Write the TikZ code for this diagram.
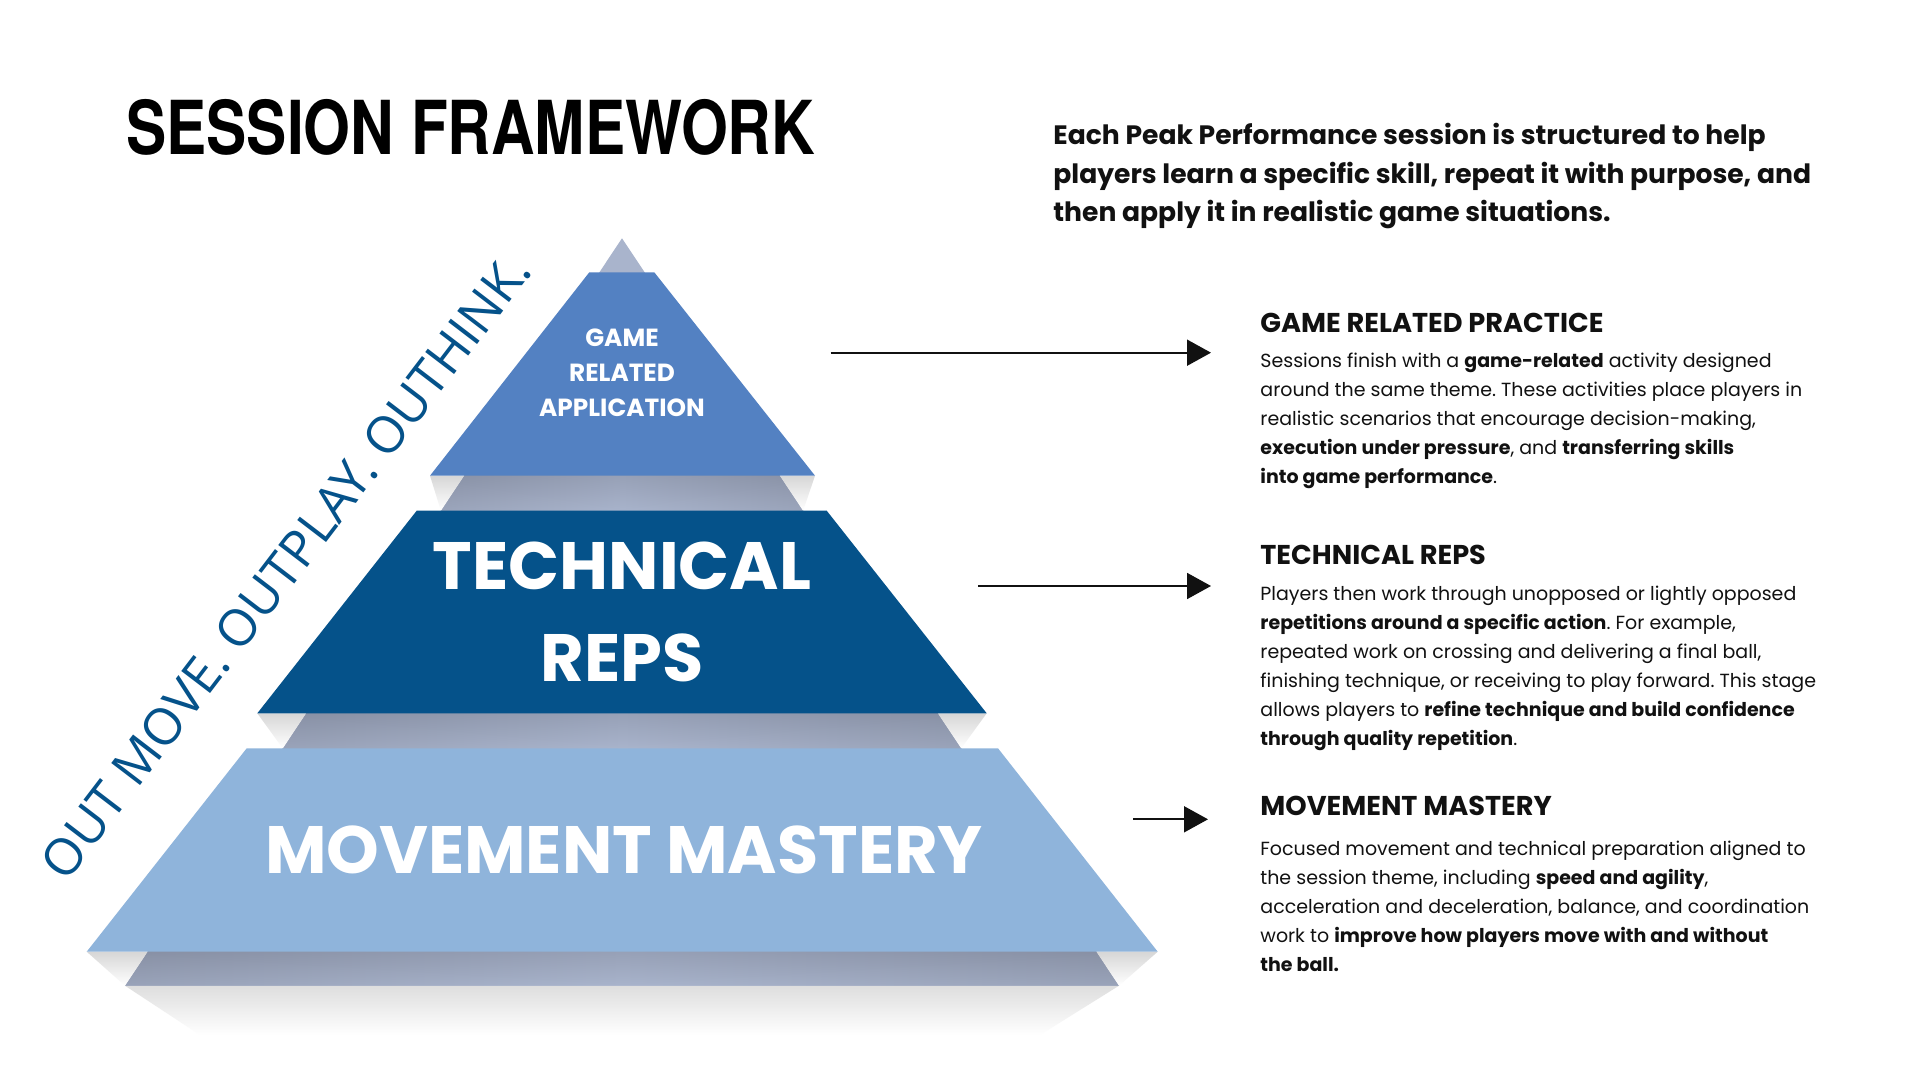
\documentclass[tikz,border=0pt]{standalone}
\usepackage{fontspec}
\setmainfont{Poppins}
\newfontfamily\titlefont[FakeStretch=0.81]{TeX Gyre Heros}
\newfontfamily\slogfont{Open Sans}
\usetikzlibrary{arrows.meta}
\definecolor{tiertop}{HTML}{5381C2}
\definecolor{tiermid}{HTML}{05528A}
\definecolor{tierlow}{HTML}{8FB4DB}
\definecolor{pyrgrey}{HTML}{A9B4CC}
\definecolor{pyrdark}{HTML}{878FA3}
\definecolor{ink}{HTML}{111111}
\frenchspacing
\tikzset{
  body/.style={anchor=base west, inner sep=0pt, text=ink, font=\fontsize{9.5pt}{12pt}\selectfont},
  head/.style={anchor=base west, inner sep=0pt, text=ink, font=\fontsize{13.6pt}{16pt}\selectfont\bfseries},
  intro/.style={anchor=base west, inner sep=0pt, text=ink, font=\fontsize{13.3pt}{16pt}\selectfont\bfseries},
  tiertext/.style={anchor=base, inner sep=0pt, text=white},
  arr/.style={-{Triangle[length=12pt,width=13pt]}, line width=0.9pt, draw=ink},
  cornershade/.style={top color=black!16, bottom color=white}
}
\begin{document}
\begin{tikzpicture}[x=0.5pt,y=-0.5pt]
\useasboundingbox (0,0) rectangle (1920,1080);
\fill[white] (0,0) rectangle (1920,1080);

% soft shadow under the pyramid
\shade[top color=black!13, bottom color=white] (125,985.7) -- (1119,985.7) -- (1040,1035) -- (200,1035) -- cycle;

% grey pyramid behind the tiers
\fill[pyrgrey] (622,238.3) -- (1119,985.7) -- (125,985.7) -- cycle;
\begin{scope}
  \clip (622,238.3) -- (1119,985.7) -- (125,985.7) -- cycle;
  \shade[left color=pyrdark, right color=pyrdark, middle color=pyrgrey] (400,475.7) rectangle (845,510.7);
  \shade[left color=pyrdark, right color=pyrdark, middle color=pyrgrey] (250,713.3) rectangle (995,748.3);
  \shade[left color=pyrdark, right color=pyrdark, middle color=pyrgrey] (80,951.7) rectangle (1165,985.7);
  \shade[top color=pyrdark, bottom color=pyrgrey, opacity=0.5] (400,475.7) rectangle (845,510.7);
  \shade[top color=pyrdark, bottom color=pyrgrey, opacity=0.5] (250,713.3) rectangle (995,748.3);
  \shade[top color=pyrdark, bottom color=pyrgrey, opacity=0.5] (80,951.7) rectangle (1165,985.7);
\end{scope}

% corner shadows beside the grey gaps
\shade[cornershade] (430,475.7) -- (464.1,475.7) -- (440.9,510.7) -- cycle;
\shade[cornershade] (779.9,475.7) -- (815,475.7) -- (803.1,510.7) -- cycle;
\shade[cornershade] (257.3,713.3) -- (306.1,713.3) -- (282.8,748.3) -- cycle;
\shade[cornershade] (937.9,713.3) -- (986.7,713.3) -- (961.2,748.3) -- cycle;
\shade[cornershade] (86.7,951.7) -- (147.6,951.7) -- (125,985.7) -- cycle;
\shade[cornershade] (1096.4,951.7) -- (1157.7,951.7) -- (1119,985.7) -- cycle;

% tiers
\fill[tiertop] (589.3,272.3) -- (654.3,272.3) -- (815,475.7) -- (430,475.7) -- cycle;
\fill[tiermid] (416.7,510.7) -- (826.7,510.7) -- (986.7,713.3) -- (257.3,713.3) -- cycle;
\fill[tierlow] (246.7,748.3) -- (998,748.3) -- (1157.7,951.7) -- (86.7,951.7) -- cycle;

% tier labels
\node[tiertext, font=\fontsize{12.4pt}{14pt}\selectfont\bfseries] (t1a) at (622,346.7) {GAME};
\node[tiertext, font=\fontsize{12.4pt}{14pt}\selectfont\bfseries] (t1b) at (622,381.7) {RELATED};
\node[tiertext, font=\fontsize{12.4pt}{14pt}\selectfont\bfseries] (t1c) at (622,416.7) {APPLICATION};
\node[tiertext, font=\fontsize{33.5pt}{40pt}\selectfont\bfseries] (t2a) at (622,589.3) {TECHNICAL};
\node[tiertext, font=\fontsize{33.5pt}{40pt}\selectfont\bfseries] (t2b) at (622,681.7) {REPS};
\node[tiertext, font=\fontsize{33.5pt}{40pt}\selectfont\bfseries] (t3) at (624,873.3) {MOVEMENT MASTERY};

% slogan
\node[rotate=52.6, anchor=base east, inner sep=0pt, text=tiermid, font=\slogfont\fontsize{25.4pt}{30pt}\selectfont] (slogan) at (534,271) {OUT MOVE. OUTPLAY. OUTHINK.};

% title
\node[anchor=base west, inner sep=0pt, text=black, font=\titlefont\bfseries\fontsize{37.2pt}{40pt}\selectfont] (title) at (126,155) {SESSION FRAMEWORK};

% intro
\node[intro] (i1) at (1053,144.6) {Each Peak Performance session is structured to help};
\node[intro] (i2) at (1053,183.2) {players learn a specific skill, repeat it with purpose, and};
\node[intro] (i3) at (1053,221.5) {then apply it in realistic game situations.};

% arrows
\coordinate (a1s) at (830.7,352.7);
\coordinate (a1e) at (1211,352.7);
\coordinate (a2s) at (978.3,586);
\coordinate (a2e) at (1211,586);
\coordinate (a3s) at (1133.3,819.3);
\coordinate (a3e) at (1208,819.3);
\draw[arr] (a1s) -- (a1e);
\draw[arr] (a2s) -- (a2e);
\draw[arr] (a3s) -- (a3e);

% game related practice
\node[head] (h1) at (1260,332.3) {GAME RELATED PRACTICE};
\node[body] (g1) at (1260,367) {Sessions finish with a \textbf{game-related} activity designed};
\node[body] (g2) at (1260,396) {around the same theme. These activities place players in};
\node[body] (g3) at (1260,425) {realistic scenarios that encourage decision-making,};
\node[body] (g4) at (1260,454) {\textbf{execution under pressure}, and \textbf{transferring skills}};
\node[body] (g5) at (1260,483) {\textbf{into game performance}.};

% technical reps
\node[head] (h2) at (1260,564.8) {TECHNICAL REPS};
\node[body] (r1) at (1260,600.3) {Players then work through unopposed or lightly opposed};
\node[body] (r2) at (1260,629) {\textbf{repetitions around a specific action}. For example,};
\node[body] (r3) at (1260,658) {repeated work on crossing and delivering a final ball,};
\node[body] (r4) at (1260,687) {finishing technique, or receiving to play forward. This stage};
\node[body] (r5) at (1260,716) {allows players to \textbf{refine technique and build confidence}};
\node[body] (r6) at (1260,745) {\textbf{through quality repetition}.};

% movement mastery
\node[head] (h3) at (1260,815.5) {MOVEMENT MASTERY};
\node[body] (m1) at (1260,855) {Focused movement and technical preparation aligned to};
\node[body] (m2) at (1260,884) {the session theme, including \textbf{speed and agility},};
\node[body] (m3) at (1260,913) {acceleration and deceleration, balance, and coordination};
\node[body] (m4) at (1260,942) {work to \textbf{improve how players move with and without}};
\node[body] (m5) at (1260,971) {\textbf{the ball.}};
\end{tikzpicture}
\end{document}
